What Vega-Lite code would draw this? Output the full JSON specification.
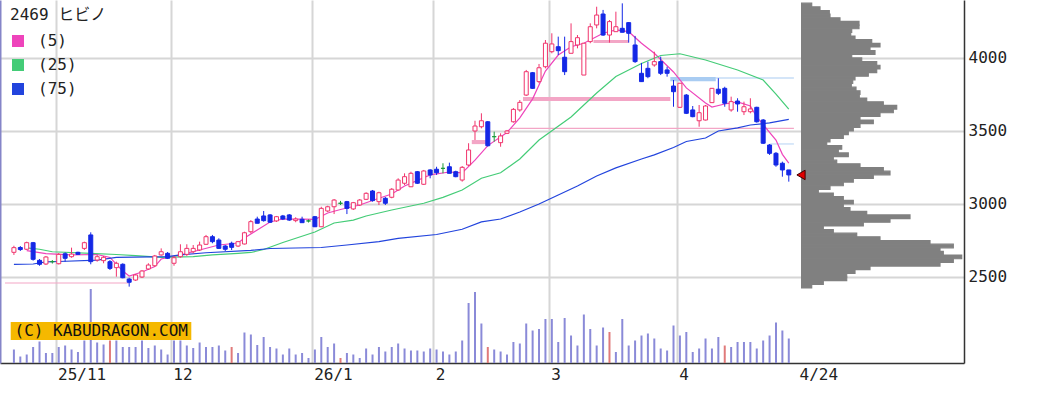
{
"$schema": "https://vega.github.io/schema/vega-lite/v6.json",
"width": 964, "height": 363,
"autosize": {"type": "none"},
"padding": {"left": 0, "top": 0, "right": 73, "bottom": 35},
"background": "white",
"config": {"view": {"stroke": null}, "font": "DejaVu Sans Mono, Noto Sans CJK JP"},
"datasets": {
"candles": [
{"i":0,"o":2669,"h":2714,"l":2651,"c":2701,"v":27},
{"i":1,"o":2702,"h":2712,"l":2678,"c":2688,"v":13},
{"i":2,"o":2690,"h":2742,"l":2685,"c":2735,"v":17},
{"i":3,"o":2735,"h":2740,"l":2612,"c":2621,"v":32},
{"i":4,"o":2614,"h":2623,"l":2577,"c":2587,"v":43},
{"i":5,"o":2589,"h":2644,"l":2582,"c":2637,"v":20},
{"i":6,"o":2605,"h":2616,"l":2592,"c":2605,"v":20},
{"i":7,"o":2591,"h":2664,"l":2586,"c":2655,"v":32},
{"i":8,"o":2659,"h":2669,"l":2605,"c":2628,"v":35},
{"i":9,"o":2639,"h":2701,"l":2632,"c":2657,"v":27},
{"i":10,"o":2669,"h":2673,"l":2651,"c":2655,"v":22},
{"i":11,"o":2696,"h":2742,"l":2685,"c":2735,"v":45},
{"i":12,"o":2788,"h":2806,"l":2587,"c":2605,"v":148},
{"i":13,"o":2616,"h":2651,"l":2605,"c":2639,"v":41},
{"i":14,"o":2612,"h":2644,"l":2594,"c":2635,"v":37},
{"i":15,"o":2605,"h":2616,"l":2548,"c":2559,"v":45,"sq":true},
{"i":16,"o":2564,"h":2605,"l":2502,"c":2594,"v":45},
{"i":17,"o":2587,"h":2594,"l":2491,"c":2495,"v":32},
{"i":18,"o":2486,"h":2495,"l":2434,"c":2464,"v":32},
{"i":19,"o":2479,"h":2520,"l":2473,"c":2514,"v":32},
{"i":20,"o":2500,"h":2548,"l":2493,"c":2541,"v":45},
{"i":21,"o":2555,"h":2594,"l":2548,"c":2582,"v":30},
{"i":22,"o":2577,"h":2651,"l":2570,"c":2644,"v":35},
{"i":23,"o":2651,"h":2696,"l":2646,"c":2673,"v":27},
{"i":24,"o":2662,"h":2671,"l":2623,"c":2628,"v":17},
{"i":25,"o":2594,"h":2644,"l":2577,"c":2632,"v":45},
{"i":26,"o":2639,"h":2724,"l":2632,"c":2673,"v":45},
{"i":27,"o":2655,"h":2724,"l":2644,"c":2696,"v":35},
{"i":28,"o":2673,"h":2719,"l":2662,"c":2696,"v":30},
{"i":29,"o":2685,"h":2742,"l":2678,"c":2719,"v":41},
{"i":30,"o":2724,"h":2788,"l":2719,"c":2776,"v":32},
{"i":31,"o":2776,"h":2788,"l":2731,"c":2742,"v":32},
{"i":32,"o":2753,"h":2765,"l":2692,"c":2696,"v":35},
{"i":33,"o":2712,"h":2719,"l":2678,"c":2690,"v":25},
{"i":34,"o":2731,"h":2742,"l":2685,"c":2703,"v":32,"sq":true},
{"i":35,"o":2712,"h":2747,"l":2705,"c":2742,"v":20},
{"i":36,"o":2726,"h":2810,"l":2723,"c":2803,"v":61},
{"i":37,"o":2810,"h":2890,"l":2799,"c":2879,"v":57},
{"i":38,"o":2897,"h":2913,"l":2868,"c":2868,"v":36},
{"i":39,"o":2918,"h":2952,"l":2879,"c":2886,"v":52},
{"i":40,"o":2925,"h":2931,"l":2870,"c":2875,"v":32},
{"i":41,"o":2884,"h":2918,"l":2877,"c":2913,"v":29},
{"i":42,"o":2918,"h":2925,"l":2890,"c":2897,"v":17},
{"i":43,"o":2925,"h":2931,"l":2884,"c":2890,"v":29},
{"i":44,"o":2886,"h":2909,"l":2875,"c":2897,"v":17},
{"i":45,"o":2895,"h":2913,"l":2872,"c":2872,"v":20},
{"i":46,"o":2884,"h":2894,"l":2873,"c":2884,"v":10},
{"i":47,"o":2913,"h":2918,"l":2842,"c":2844,"v":27},
{"i":48,"o":2844,"h":2981,"l":2842,"c":2970,"v":52},
{"i":49,"o":2952,"h":2988,"l":2945,"c":2981,"v":32},
{"i":50,"o":2981,"h":3034,"l":2931,"c":3027,"v":39},
{"i":51,"o":3005,"h":3021,"l":2993,"c":3005,"v":10,"sq":true},
{"i":52,"o":3016,"h":3021,"l":2931,"c":2970,"v":20},
{"i":53,"o":2966,"h":3014,"l":2959,"c":3009,"v":17},
{"i":54,"o":2993,"h":3034,"l":2986,"c":3027,"v":10},
{"i":55,"o":3032,"h":3080,"l":3027,"c":3073,"v":29},
{"i":56,"o":3089,"h":3096,"l":3016,"c":3023,"v":17},
{"i":57,"o":3016,"h":3084,"l":2993,"c":3077,"v":32},
{"i":58,"o":3039,"h":3048,"l":2993,"c":3005,"v":23},
{"i":59,"o":3046,"h":3109,"l":3039,"c":3101,"v":32},
{"i":60,"o":3096,"h":3176,"l":3091,"c":3164,"v":39},
{"i":61,"o":3142,"h":3210,"l":3130,"c":3187,"v":29},
{"i":62,"o":3118,"h":3221,"l":3116,"c":3210,"v":25},
{"i":63,"o":3221,"h":3226,"l":3137,"c":3142,"v":25},
{"i":64,"o":3135,"h":3233,"l":3130,"c":3226,"v":23},
{"i":65,"o":3233,"h":3238,"l":3176,"c":3199,"v":29},
{"i":66,"o":3238,"h":3255,"l":3199,"c":3214,"v":27},
{"i":67,"o":3244,"h":3279,"l":3210,"c":3244,"v":23},
{"i":68,"o":3255,"h":3283,"l":3210,"c":3210,"v":17},
{"i":69,"o":3221,"h":3228,"l":3183,"c":3187,"v":23},
{"i":70,"o":3164,"h":3260,"l":3153,"c":3251,"v":45},
{"i":71,"o":3267,"h":3416,"l":3260,"c":3370,"v":120},
{"i":72,"o":3500,"h":3570,"l":3438,"c":3534,"v":142},
{"i":73,"o":3529,"h":3621,"l":3518,"c":3570,"v":79},
{"i":74,"o":3563,"h":3568,"l":3394,"c":3399,"v":32,"sq":true},
{"i":75,"o":3461,"h":3495,"l":3427,"c":3461,"v":27},
{"i":76,"o":3420,"h":3484,"l":3392,"c":3466,"v":23},
{"i":77,"o":3484,"h":3507,"l":3479,"c":3500,"v":17},
{"i":78,"o":3563,"h":3657,"l":3557,"c":3648,"v":42},
{"i":79,"o":3644,"h":3712,"l":3632,"c":3696,"v":39},
{"i":80,"o":3746,"h":3918,"l":3740,"c":3906,"v":79},
{"i":81,"o":3899,"h":3904,"l":3788,"c":3792,"v":65},
{"i":82,"o":3838,"h":3959,"l":3827,"c":3933,"v":68},
{"i":83,"o":3940,"h":4123,"l":3929,"c":4101,"v":88},
{"i":84,"o":4043,"h":4169,"l":4032,"c":4096,"v":88},
{"i":85,"o":4077,"h":4146,"l":4020,"c":4050,"v":42},
{"i":86,"o":4005,"h":4146,"l":3883,"c":3906,"v":90},
{"i":87,"o":4032,"h":4237,"l":4032,"c":4112,"v":55},
{"i":88,"o":4089,"h":4157,"l":4066,"c":4139,"v":35},
{"i":89,"o":3883,"h":4103,"l":3883,"c":4101,"v":97},
{"i":90,"o":4112,"h":4237,"l":4101,"c":4214,"v":68},
{"i":91,"o":4226,"h":4351,"l":4203,"c":4294,"v":35},
{"i":92,"o":4301,"h":4329,"l":4151,"c":4157,"v":71},
{"i":93,"o":4157,"h":4260,"l":4105,"c":4249,"v":62,"sq":true},
{"i":94,"o":4180,"h":4317,"l":4180,"c":4214,"v":22},
{"i":95,"o":4203,"h":4374,"l":4176,"c":4176,"v":88},
{"i":96,"o":4242,"h":4246,"l":4105,"c":4169,"v":35},
{"i":97,"o":4089,"h":4151,"l":3966,"c":3975,"v":45},
{"i":98,"o":3895,"h":3966,"l":3836,"c":3838,"v":55},
{"i":99,"o":3929,"h":3975,"l":3861,"c":3872,"v":59},
{"i":100,"o":3952,"h":4043,"l":3940,"c":3975,"v":49},
{"i":101,"o":3975,"h":4009,"l":3883,"c":3895,"v":29},
{"i":102,"o":3918,"h":3940,"l":3872,"c":3895,"v":25},
{"i":103,"o":3808,"h":3849,"l":3666,"c":3769,"v":75},
{"i":104,"o":3662,"h":3829,"l":3657,"c":3827,"v":55},
{"i":105,"o":3746,"h":3753,"l":3616,"c":3621,"v":62},
{"i":106,"o":3644,"h":3671,"l":3594,"c":3598,"v":22},
{"i":107,"o":3570,"h":3678,"l":3529,"c":3625,"v":29},
{"i":108,"o":3575,"h":3678,"l":3572,"c":3671,"v":49},
{"i":109,"o":3694,"h":3794,"l":3692,"c":3792,"v":29},
{"i":110,"o":3786,"h":3861,"l":3746,"c":3758,"v":52},
{"i":111,"o":3792,"h":3803,"l":3666,"c":3690,"v":35,"sq":true},
{"i":112,"o":3644,"h":3735,"l":3632,"c":3701,"v":32},
{"i":113,"o":3705,"h":3724,"l":3632,"c":3685,"v":42},
{"i":114,"o":3632,"h":3701,"l":3609,"c":3666,"v":42},
{"i":115,"o":3632,"h":3724,"l":3621,"c":3651,"v":42},
{"i":116,"o":3662,"h":3666,"l":3557,"c":3563,"v":29},
{"i":117,"o":3575,"h":3582,"l":3411,"c":3416,"v":45},
{"i":118,"o":3404,"h":3411,"l":3336,"c":3347,"v":55},
{"i":119,"o":3347,"h":3356,"l":3255,"c":3267,"v":81},
{"i":120,"o":3279,"h":3290,"l":3187,"c":3233,"v":65},
{"i":121,"o":3233,"h":3233,"l":3153,"c":3199,"v":49}
],
"ma": [
{"s":"(5)","i":2,"v":2680},{"s":"(5)","i":5,"v":2660},{"s":"(5)","i":9,"v":2651},{"s":"(5)","i":13,"v":2654},{"s":"(5)","i":15,"v":2634},{"s":"(5)","i":17,"v":2541},{"s":"(5)","i":18,"v":2507},{"s":"(5)","i":20,"v":2534},{"s":"(5)","i":22,"v":2571},{"s":"(5)","i":23,"v":2623},{"s":"(5)","i":26,"v":2651},{"s":"(5)","i":29,"v":2685},{"s":"(5)","i":32,"v":2719},{"s":"(5)","i":35,"v":2733},{"s":"(5)","i":36,"v":2767},{"s":"(5)","i":38,"v":2822},{"s":"(5)","i":40,"v":2877},{"s":"(5)","i":42,"v":2897},{"s":"(5)","i":45,"v":2897},{"s":"(5)","i":47,"v":2894},{"s":"(5)","i":49,"v":2938},{"s":"(5)","i":51,"v":2962},{"s":"(5)","i":54,"v":2993},{"s":"(5)","i":57,"v":3039},{"s":"(5)","i":59,"v":3068},{"s":"(5)","i":61,"v":3123},{"s":"(5)","i":65,"v":3199},{"s":"(5)","i":68,"v":3219},{"s":"(5)","i":70,"v":3213},{"s":"(5)","i":72,"v":3300},{"s":"(5)","i":74,"v":3400},{"s":"(5)","i":77,"v":3490},{"s":"(5)","i":79,"v":3590},{"s":"(5)","i":81,"v":3720},{"s":"(5)","i":83,"v":3910},{"s":"(5)","i":85,"v":4020},{"s":"(5)","i":87,"v":4077},{"s":"(5)","i":89,"v":4101},{"s":"(5)","i":92,"v":4169},{"s":"(5)","i":94,"v":4192},{"s":"(5)","i":96,"v":4180},{"s":"(5)","i":98,"v":4101},{"s":"(5)","i":100,"v":4032},{"s":"(5)","i":103,"v":3904},{"s":"(5)","i":105,"v":3795},{"s":"(5)","i":108,"v":3692},{"s":"(5)","i":109,"v":3664},{"s":"(5)","i":111,"v":3685},{"s":"(5)","i":113,"v":3699},{"s":"(5)","i":115,"v":3671},{"s":"(5)","i":116,"v":3596},{"s":"(5)","i":119,"v":3438},{"s":"(5)","i":120,"v":3340},{"s":"(5)","i":121,"v":3280},
{"s":"(25)","i":2,"v":2699},{"s":"(25)","i":4,"v":2690},{"s":"(25)","i":6,"v":2673},{"s":"(25)","i":12,"v":2662},{"s":"(25)","i":16,"v":2654},{"s":"(25)","i":19,"v":2646},{"s":"(25)","i":23,"v":2635},{"s":"(25)","i":28,"v":2640},{"s":"(25)","i":31,"v":2651},{"s":"(25)","i":35,"v":2662},{"s":"(25)","i":37,"v":2668},{"s":"(25)","i":39,"v":2688},{"s":"(25)","i":42,"v":2736},{"s":"(25)","i":47,"v":2808},{"s":"(25)","i":50,"v":2870},{"s":"(25)","i":53,"v":2890},{"s":"(25)","i":55,"v":2918},{"s":"(25)","i":59,"v":2959},{"s":"(25)","i":64,"v":3005},{"s":"(25)","i":67,"v":3045},{"s":"(25)","i":70,"v":3096},{"s":"(25)","i":73,"v":3176},{"s":"(25)","i":76,"v":3214},{"s":"(25)","i":79,"v":3308},{"s":"(25)","i":82,"v":3438},{"s":"(25)","i":87,"v":3596},{"s":"(25)","i":91,"v":3760},{"s":"(25)","i":94,"v":3873},{"s":"(25)","i":98,"v":3962},{"s":"(25)","i":101,"v":4017},{"s":"(25)","i":104,"v":4029},{"s":"(25)","i":108,"v":3986},{"s":"(25)","i":113,"v":3918},{"s":"(25)","i":117,"v":3849},{"s":"(25)","i":119,"v":3753},{"s":"(25)","i":121,"v":3649},
{"s":"(75)","i":0,"v":2587},{"s":"(75)","i":3,"v":2589},{"s":"(75)","i":5,"v":2603},{"s":"(75)","i":7,"v":2606},{"s":"(75)","i":13,"v":2616},{"s":"(75)","i":16,"v":2634},{"s":"(75)","i":24,"v":2640},{"s":"(75)","i":26,"v":2651},{"s":"(75)","i":30,"v":2666},{"s":"(75)","i":37,"v":2682},{"s":"(75)","i":40,"v":2695},{"s":"(75)","i":48,"v":2702},{"s":"(75)","i":52,"v":2719},{"s":"(75)","i":57,"v":2742},{"s":"(75)","i":60,"v":2764},{"s":"(75)","i":66,"v":2791},{"s":"(75)","i":70,"v":2827},{"s":"(75)","i":73,"v":2877},{"s":"(75)","i":76,"v":2897},{"s":"(75)","i":79,"v":2945},{"s":"(75)","i":82,"v":3000},{"s":"(75)","i":85,"v":3062},{"s":"(75)","i":88,"v":3123},{"s":"(75)","i":91,"v":3192},{"s":"(75)","i":94,"v":3247},{"s":"(75)","i":98,"v":3308},{"s":"(75)","i":100,"v":3336},{"s":"(75)","i":103,"v":3387},{"s":"(75)","i":105,"v":3428},{"s":"(75)","i":108,"v":3452},{"s":"(75)","i":110,"v":3500},{"s":"(75)","i":113,"v":3521},{"s":"(75)","i":115,"v":3541},{"s":"(75)","i":118,"v":3555},{"s":"(75)","i":121,"v":3579}
],
"bands": [
{"x1":-1.4,"x2":18,"p1":2456,"p2":2463,"k":"up"},
{"x1":79.5,"x2":102.5,"p1":3705,"p2":3733,"k":"up"},
{"x1":77.5,"x2":121.8,"p1":3514,"p2":3522,"k":"up"},
{"x1":90.5,"x2":96,"p1":4103,"p2":4123,"k":"up"},
{"x1":71.5,"x2":74,"p1":3410,"p2":3438,"k":"up"},
{"x1":102.5,"x2":109.6,"p1":3840,"p2":3870,"k":"down"},
{"x1":109.6,"x2":121.8,"p1":3859,"p2":3866,"k":"down"},
{"x1":118.1,"x2":121.8,"p1":3408,"p2":3414,"k":"down"}
],
"profile": [
{"p0":4350,"p1":4375,"pv":10.7},{"p0":4325,"p1":4350,"pv":19},{"p0":4300,"p1":4325,"pv":28.3},{"p0":4275,"p1":4300,"pv":29},{"p0":4250,"p1":4275,"pv":39},{"p0":4225,"p1":4250,"pv":58},{"p0":4200,"p1":4225,"pv":58},{"p0":4175,"p1":4200,"pv":50.7},{"p0":4150,"p1":4175,"pv":49.7},{"p0":4125,"p1":4150,"pv":54},{"p0":4100,"p1":4125,"pv":70.7},{"p0":4075,"p1":4100,"pv":79},{"p0":4050,"p1":4075,"pv":69},{"p0":4025,"p1":4050,"pv":74},{"p0":4000,"p1":4025,"pv":50.7},{"p0":3975,"p1":4000,"pv":60.7},{"p0":3950,"p1":3975,"pv":75.7},{"p0":3925,"p1":3950,"pv":79},{"p0":3900,"p1":3925,"pv":75.7},{"p0":3875,"p1":3900,"pv":67.3},{"p0":3850,"p1":3875,"pv":54},{"p0":3825,"p1":3850,"pv":51.7},{"p0":3800,"p1":3825,"pv":50.3},{"p0":3775,"p1":3800,"pv":55},{"p0":3750,"p1":3775,"pv":59},{"p0":3725,"p1":3750,"pv":58.3},{"p0":3700,"p1":3725,"pv":65.7},{"p0":3675,"p1":3700,"pv":82.3},{"p0":3650,"p1":3675,"pv":95.7},{"p0":3625,"p1":3650,"pv":92.3},{"p0":3600,"p1":3625,"pv":79},{"p0":3575,"p1":3600,"pv":59},{"p0":3550,"p1":3575,"pv":72.3},{"p0":3525,"p1":3550,"pv":59},{"p0":3500,"p1":3525,"pv":52.3},{"p0":3475,"p1":3500,"pv":47.3},{"p0":3450,"p1":3475,"pv":42.3},{"p0":3425,"p1":3450,"pv":29},{"p0":3400,"p1":3425,"pv":25.7},{"p0":3375,"p1":3400,"pv":40.7},{"p0":3350,"p1":3375,"pv":37.3},{"p0":3325,"p1":3350,"pv":47.3},{"p0":3300,"p1":3325,"pv":32.3},{"p0":3275,"p1":3300,"pv":35.7},{"p0":3250,"p1":3275,"pv":59},{"p0":3225,"p1":3250,"pv":82.3},{"p0":3200,"p1":3225,"pv":89},{"p0":3175,"p1":3200,"pv":72.3},{"p0":3150,"p1":3175,"pv":52.3},{"p0":3125,"p1":3150,"pv":42.3},{"p0":3100,"p1":3125,"pv":29},{"p0":3075,"p1":3100,"pv":17.3},{"p0":3050,"p1":3075,"pv":32.3},{"p0":3025,"p1":3050,"pv":42.3},{"p0":3000,"p1":3025,"pv":52.3},{"p0":2975,"p1":3000,"pv":42.3},{"p0":2950,"p1":2975,"pv":49},{"p0":2925,"p1":2950,"pv":65.7},{"p0":2900,"p1":2925,"pv":109},{"p0":2875,"p1":2900,"pv":89},{"p0":2850,"p1":2875,"pv":62.3},{"p0":2825,"p1":2850,"pv":22.3},{"p0":2800,"p1":2825,"pv":32.3},{"p0":2775,"p1":2800,"pv":55.7},{"p0":2750,"p1":2775,"pv":79},{"p0":2725,"p1":2750,"pv":129},{"p0":2700,"p1":2725,"pv":152.3},{"p0":2675,"p1":2700,"pv":139},{"p0":2650,"p1":2675,"pv":142.3},{"p0":2625,"p1":2650,"pv":160.7},{"p0":2600,"p1":2625,"pv":152.3},{"p0":2575,"p1":2600,"pv":139},{"p0":2550,"p1":2575,"pv":69},{"p0":2525,"p1":2550,"pv":54},{"p0":2500,"p1":2525,"pv":45.7},{"p0":2475,"p1":2500,"pv":45.7},{"p0":2450,"p1":2475,"pv":22.3},{"p0":2425,"p1":2450,"pv":10.7}
]
},
"layer": [
{
"layer": [
{"data": {"name": "candles"},
 "mark": {"type": "bar", "width": 2},
 "encoding": {
  "x": {"field": "i", "type": "quantitative", "scale": {"domain": [-1.391, 147.58], "nice": false, "zero": false}, "axis": null},
  "y": {"field": "v", "type": "quantitative", "scale": {"domain": [0, 726], "nice": false, "zero": false},
        "axis": {"orient": "left", "labels": false, "ticks": false, "grid": false, "title": null, "domainColor": "#8585c8", "domainWidth": 2}},
  "color": {"condition": {"test": "datum.sq", "value": "#e07a7a"}, "value": "#8a8ad8"}}},
{"data": {"values": [{}]},
 "mark": {"type": "rect", "fill": "#f5b800"},
 "encoding": {"x": {"datum": -0.5, "type": "quantitative"}, "x2": {"datum": 27.7}, "y": {"datum": 82, "type": "quantitative"}, "y2": {"datum": 46}}},
{"data": {"values": [{}]},
 "mark": {"type": "text", "text": "(C) KABUDRAGON.COM", "align": "left", "baseline": "middle", "font": "DejaVu Sans Mono", "fontSize": 16, "color": "#111"},
 "encoding": {"x": {"datum": 0.1, "type": "quantitative"}, "y": {"datum": 64, "type": "quantitative"}}}
]
},
{
"layer": [
{"data": {"name": "bands"},
 "mark": {"type": "rect"},
 "encoding": {
  "x": {"field": "x1", "type": "quantitative", "scale": {"domain": [-1.391, 147.58], "nice": false, "zero": false},
        "axis": {"orient": "bottom", "values": [6.5, 24.5, 46.5, 65.5, 83.5, 103.5, 122.3],
          "labelExpr": "datum.value < 10 ? '25/11' : datum.value < 30 ? '12' : datum.value < 50 ? '26/1' : datum.value < 70 ? '2' : datum.value < 90 ? '3' : datum.value < 110 ? '4' : '4/24'",
          "title": null, "grid": true, "gridColor": {"condition": {"test": "datum.value > 120", "value": "rgba(0,0,0,0)"}, "value": "#d6d6d6"}, "gridWidth": 2,
          "ticks": false, "domain": true, "domainColor": "#333333", "domainWidth": 1.5,
          "labelAlign": "left", "labelOffset": 2, "labelPadding": 3, "labelFontSize": 16, "labelFont": "DejaVu Sans Mono", "labelColor": "#222222",
          "labelFlush": false, "labelOverlap": false, "labelBound": false}},
  "x2": {"field": "x2"},
  "y": {"field": "p1", "type": "quantitative", "scale": {"domain": [1911, 4397], "nice": false, "zero": false},
        "axis": {"orient": "right", "values": [2500, 3000, 3500, 4000], "format": "d", "title": null, "grid": true, "gridColor": "#d6d6d6", "gridWidth": 2,
          "ticks": false, "domain": true, "domainColor": "#333333", "domainWidth": 1.5, "labelPadding": 4, "labelFontSize": 16, "labelFont": "DejaVu Sans Mono", "labelColor": "#222222", "labelAlign": "left", "labelBaseline": "middle"}},
  "y2": {"field": "p2"},
  "fill": {"condition": {"test": "datum.k == 'up'", "value": "#f3a6c6"}, "value": "#a9ccf2"}}},
{"data": {"name": "ma"},
 "mark": {"type": "line", "strokeWidth": 1.2},
 "encoding": {
  "x": {"field": "i", "type": "quantitative"},
  "y": {"field": "v", "type": "quantitative"},
  "color": {"field": "s", "type": "nominal", "scale": {"domain": ["(5)", "(25)", "(75)"], "range": ["#ee44bb", "#44cc77", "#2244dd"]},
    "legend": {"title": "2469 ヒビノ", "orient": "none", "legendX": 10, "legendY": 7, "direction": "vertical",
      "symbolType": "square", "symbolSize": 144, "symbolStrokeWidth": 0, "labelFontSize": 16, "titleFontSize": 16, "titleFontWeight": "normal",
      "labelFont": "DejaVu Sans Mono, Noto Sans CJK JP", "titleFont": "DejaVu Sans Mono, Noto Sans CJK JP", "labelColor": "#222222", "titleColor": "#222222",
      "labelOffset": 12, "rowPadding": 8, "titlePadding": 10, "padding": 0,
      "encode": {"symbols": {"update": {"fill": {"scale": "color", "field": "value"}, "stroke": {"value": "transparent"}}}}}},
  "strokeWidth": {"condition": {"test": "datum.s == '(75)'", "value": 2}, "value": 1.2}}},
{"data": {"name": "candles"},
 "mark": {"type": "rule", "strokeWidth": 1},
 "encoding": {
  "x": {"field": "i", "type": "quantitative"},
  "y": {"field": "l", "type": "quantitative"},
  "y2": {"field": "h"},
  "stroke": {"condition": [{"test": "datum.c > datum.o", "value": "#f0346c"}, {"test": "datum.c < datum.o", "value": "#1428e6"}], "value": "#1a9a3a"}}},
{"data": {"name": "candles"},
 "mark": {"type": "bar", "width": 4, "strokeWidth": 1},
 "encoding": {
  "x": {"field": "i", "type": "quantitative"},
  "y": {"field": "o", "type": "quantitative"},
  "y2": {"field": "c"},
  "fill": {"condition": [{"test": "datum.c > datum.o", "value": "#ffffff"}, {"test": "datum.c < datum.o", "value": "#1428e6"}], "value": "#1a9a3a"},
  "stroke": {"condition": [{"test": "datum.c > datum.o", "value": "#f0346c"}, {"test": "datum.c < datum.o", "value": "#1428e6"}], "value": "#1a9a3a"}}}
]
},
{
"layer": [
{"data": {"name": "profile"},
 "mark": {"type": "rect", "fill": "#808080", "stroke": "#808080", "strokeWidth": 1.2},
 "encoding": {
  "x": {"field": "pv", "type": "quantitative", "scale": {"domain": [-801, 163], "nice": false, "zero": false}, "axis": null},
  "x2": {"datum": 0.6},
  "y": {"field": "p0", "type": "quantitative", "scale": {"domain": [1911, 4397], "nice": false, "zero": false}, "axis": null},
  "y2": {"field": "p1"}}},
{"data": {"name": "candles"},
 "transform": [{"filter": "datum.i == 121"}],
 "mark": {"type": "point", "shape": "triangle-left", "filled": true, "size": 90, "fill": "#e00000", "stroke": "#400000", "strokeWidth": 1, "opacity": 1},
 "encoding": {"x": {"datum": 0, "type": "quantitative"}, "y": {"field": "c", "type": "quantitative"}}}
]
}
],
"resolve": {"scale": {"x": "independent", "y": "independent"}, "axis": {"x": "independent", "y": "independent"}}
}
